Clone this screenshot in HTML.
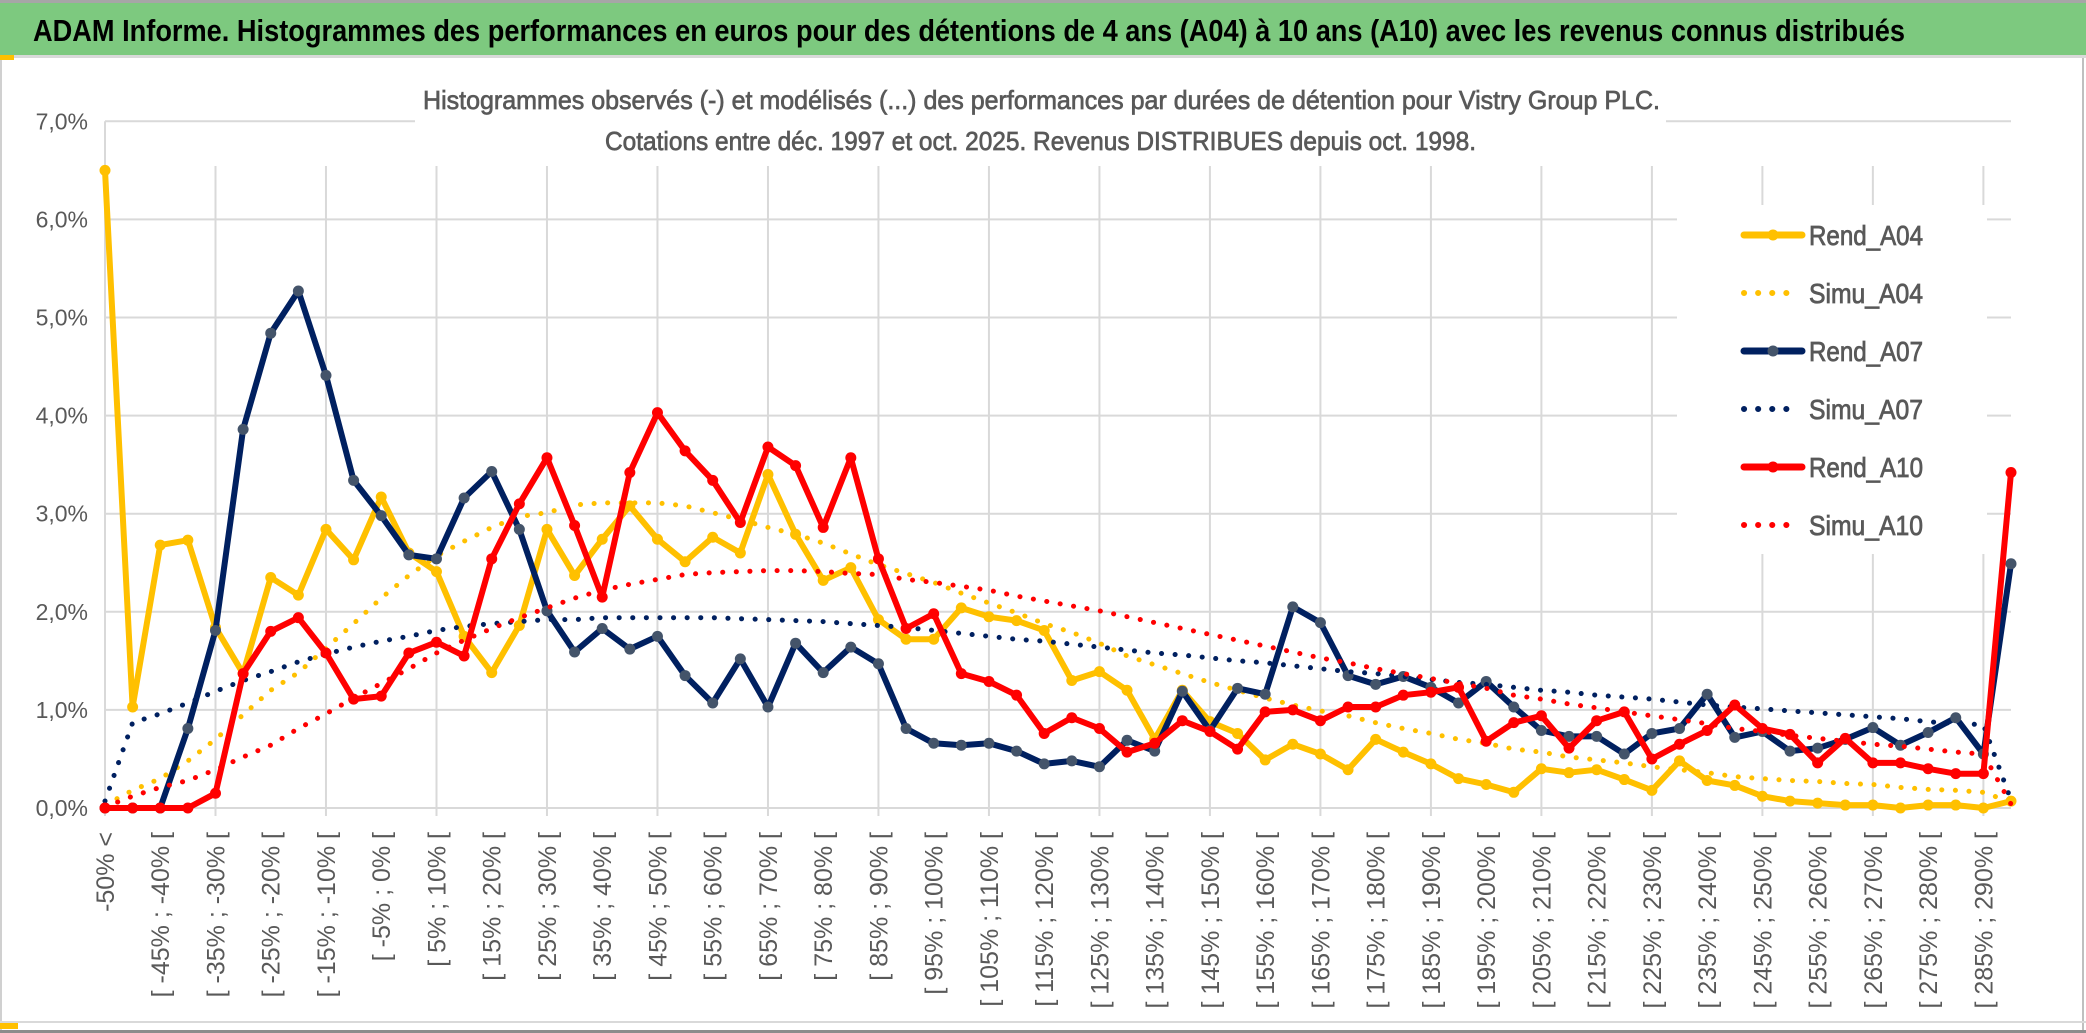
<!DOCTYPE html>
<html><head><meta charset="utf-8">
<style>
html,body{margin:0;padding:0;background:#fff;}
svg{display:block;}
text{font-family:"Liberation Sans",sans-serif;}
</style></head>
<body>
<svg id="chart" width="2086" height="1033" viewBox="0 0 2086 1033" xmlns="http://www.w3.org/2000/svg">
  <rect x="0" y="0" width="2086" height="1033" fill="#ffffff"/>
  <rect x="0" y="0" width="2086" height="3" fill="#a6a6a6"/>
  <rect x="0" y="3" width="2086" height="52" fill="#7dc97f"/>
  <rect x="0" y="55" width="2086" height="3" fill="#d9d9d9"/>
  <text x="33" y="41" font-size="31" font-weight="bold" fill="#000" textLength="1872" lengthAdjust="spacingAndGlyphs">ADAM Informe. Histogrammes des performances en euros pour des détentions de 4 ans (A04) à 10 ans (A10) avec les revenus connus distribués</text>
  <rect x="0" y="58" width="2" height="975" fill="#d0d0d0"/>
  <rect x="2082" y="58" width="2" height="975" fill="#bfbfbf"/>
  <rect x="0" y="1021" width="2086" height="2" fill="#d9d9d9"/>
  <rect x="0" y="1030" width="2086" height="3" fill="#8c8c8c"/>
  <rect x="0" y="55" width="14" height="5" fill="#ffc000"/>
  <rect x="0" y="1023" width="18" height="6" fill="#ffc000"/>
  <g id="grid"></g>
  <g id="yaxis"></g>
  <g id="xaxis"></g>
  <rect x="415" y="82" width="1251" height="84" fill="#fff"/>
  <text x="423" y="109" font-size="26" fill="#595959" stroke="#595959" stroke-width="0.7" textLength="1237" lengthAdjust="spacingAndGlyphs">Histogrammes observés (-) et modélisés (...) des performances par durées de détention pour Vistry Group PLC.</text>
  <text x="605" y="150" font-size="26" fill="#595959" stroke="#595959" stroke-width="0.7" textLength="871" lengthAdjust="spacingAndGlyphs">Cotations entre déc. 1997 et oct. 2025. Revenus DISTRIBUES depuis oct. 1998.</text>
  <rect x="1677" y="205" width="310" height="349" fill="#fff"/>
  <g id="series"></g>
  <g id="legend"></g>
</svg>
<script>
const categories = ["-50% <","[ -50% ; -45% [","[ -45% ; -40% [","[ -40% ; -35% [","[ -35% ; -30% [","[ -30% ; -25% [","[ -25% ; -20% [","[ -20% ; -15% [","[ -15% ; -10% [","[ -10% ; -5% [",
"[ -5% ; 0% [","[ 0% ; 5% [","[ 5% ; 10% [","[ 10% ; 15% [","[ 15% ; 20% [","[ 20% ; 25% [","[ 25% ; 30% [","[ 30% ; 35% [","[ 35% ; 40% [","[ 40% ; 45% [",
"[ 45% ; 50% [","[ 50% ; 55% [","[ 55% ; 60% [","[ 60% ; 65% [","[ 65% ; 70% [","[ 70% ; 75% [","[ 75% ; 80% [","[ 80% ; 85% [","[ 85% ; 90% [","[ 90% ; 95% [",
"[ 95% ; 100% [","[ 100% ; 105% [","[ 105% ; 110% [","[ 110% ; 115% [","[ 115% ; 120% [","[ 120% ; 125% [","[ 125% ; 130% [","[ 130% ; 135% [","[ 135% ; 140% [","[ 140% ; 145% [",
"[ 145% ; 150% [","[ 150% ; 155% [","[ 155% ; 160% [","[ 160% ; 165% [","[ 165% ; 170% [","[ 170% ; 175% [","[ 175% ; 180% [","[ 180% ; 185% [","[ 185% ; 190% [","[ 190% ; 195% [",
"[ 195% ; 200% [","[ 200% ; 205% [","[ 205% ; 210% [","[ 210% ; 215% [","[ 215% ; 220% [","[ 220% ; 225% [","[ 225% ; 230% [","[ 230% ; 235% [","[ 235% ; 240% [","[ 240% ; 245% [",
"[ 245% ; 250% [","[ 250% ; 255% [","[ 255% ; 260% [","[ 260% ; 265% [","[ 265% ; 270% [","[ 270% ; 275% [","[ 275% ; 280% [","[ 280% ; 285% [","[ 285% ; 290% [","[ 290% ; 295% ["];

const rendA04 = [6.50,1.03,2.68,2.73,1.84,1.37,2.35,2.17,2.84,2.53,3.17,2.60,2.41,1.75,1.38,1.86,2.84,2.37,2.74,3.08,
2.74,2.51,2.76,2.60,3.40,2.79,2.32,2.45,1.92,1.72,1.72,2.04,1.95,1.91,1.81,1.30,1.39,1.20,0.70,1.20,
0.88,0.76,0.49,0.65,0.55,0.39,0.70,0.57,0.45,0.30,0.24,0.16,0.40,0.36,0.39,0.29,0.18,0.48,0.28,0.23,
0.12,0.07,0.05,0.03,0.03,0.00,0.03,0.03,0.00,0.07];
const simuA04 = [0.03,0.18,0.30,0.48,0.70,0.95,1.20,1.38,1.63,1.88,2.14,2.37,2.57,2.72,2.86,2.97,3.01,3.09,3.11,3.11,
3.11,3.08,3.01,2.94,2.86,2.79,2.70,2.59,2.48,2.39,2.30,2.19,2.09,1.99,1.88,1.79,1.68,1.55,1.46,1.37,
1.28,1.20,1.12,1.05,0.99,0.94,0.87,0.81,0.76,0.70,0.66,0.60,0.57,0.52,0.49,0.46,0.42,0.39,0.36,0.32,
0.30,0.28,0.27,0.25,0.24,0.21,0.19,0.18,0.16,0.06];
const rendA07 = [0,0,0,0.81,1.81,3.86,4.84,5.27,4.41,3.34,2.98,2.58,2.54,3.16,3.43,2.84,2.01,1.59,1.83,1.62,
1.75,1.35,1.07,1.52,1.03,1.68,1.38,1.64,1.47,0.81,0.66,0.64,0.66,0.58,0.45,0.48,0.42,0.69,0.58,1.19,
0.79,1.22,1.16,2.05,1.89,1.35,1.26,1.34,1.23,1.07,1.29,1.03,0.79,0.73,0.73,0.55,0.76,0.81,1.16,0.72,
0.78,0.58,0.61,0.70,0.82,0.64,0.77,0.92,0.55,2.49];
const simuA07 = [0.07,0.87,0.96,1.07,1.19,1.30,1.39,1.49,1.57,1.64,1.70,1.75,1.81,1.85,1.88,1.90,1.92,1.92,1.94,1.94,
1.94,1.94,1.94,1.93,1.92,1.91,1.90,1.88,1.86,1.84,1.81,1.78,1.75,1.72,1.70,1.67,1.64,1.61,1.58,1.56,
1.53,1.50,1.48,1.45,1.42,1.39,1.37,1.34,1.31,1.28,1.26,1.23,1.20,1.18,1.15,1.13,1.11,1.08,1.05,1.03,
1.01,0.99,0.97,0.95,0.93,0.91,0.88,0.86,0.85,0.08];
const rendA10 = [0,0,0,0,0.15,1.37,1.80,1.94,1.58,1.11,1.14,1.58,1.69,1.55,2.54,3.10,3.57,2.88,2.15,3.42,
4.03,3.64,3.34,2.91,3.68,3.49,2.86,3.57,2.54,1.83,1.98,1.37,1.29,1.15,0.76,0.92,0.81,0.57,0.66,0.89,
0.78,0.60,0.98,1.00,0.89,1.03,1.03,1.15,1.18,1.23,0.68,0.87,0.94,0.61,0.89,0.98,0.50,0.65,0.79,1.05,
0.81,0.75,0.46,0.71,0.46,0.46,0.40,0.35,0.35,3.42];
const simuA10 = [0.01,0.12,0.21,0.28,0.39,0.52,0.64,0.81,0.96,1.12,1.27,1.42,1.58,1.71,1.83,1.94,2.04,2.14,2.22,2.28,
2.33,2.38,2.40,2.41,2.42,2.42,2.41,2.39,2.38,2.33,2.30,2.26,2.22,2.16,2.11,2.06,2.01,1.95,1.89,1.83,
1.77,1.71,1.65,1.59,1.53,1.48,1.42,1.37,1.32,1.27,1.22,1.15,1.11,1.06,1.02,0.98,0.94,0.90,0.86,0.81,
0.78,0.74,0.71,0.68,0.65,0.63,0.60,0.57,0.55,0.04];
const yTicks = [0,1,2,3,4,5,6,7];
const yTickLabels = ["0,0%","1,0%","2,0%","3,0%","4,0%","5,0%","6,0%","7,0%"];

const NS = "http://www.w3.org/2000/svg";
const X0 = 105, X1 = 2011, Y0 = 808, YTOP = 121.3, YMAX = 7;
function xScale(i){ return X0 + i * (X1 - X0) / (categories.length - 1); }
function yScale(v){ return Y0 - v * (Y0 - YTOP) / YMAX; }
function mk(tag, attrs, parent){
  const el = document.createElementNS(NS, tag);
  for (const k in attrs) el.setAttribute(k, attrs[k]);
  parent.appendChild(el);
  return el;
}
const grid = document.getElementById('grid');
const yaxis = document.getElementById('yaxis');
const xaxis = document.getElementById('xaxis');
const seriesG = document.getElementById('series');
const legend = document.getElementById('legend');

yTicks.forEach((t, k) => {
  const y = yScale(t);
  const ln = mk('line', {x1: X0, x2: X1, y1: y, y2: y, stroke: '#d9d9d9', 'stroke-width': 2}, grid);
  
  
  const tx = mk('text', {x: 88, y: y + 8, 'font-size': 23, fill: '#595959', 'text-anchor': 'end'}, yaxis);
  tx.textContent = yTickLabels[k];
  
  
});
for (let i = 0; i < categories.length; i += 4) {
  const x = xScale(i);
  const ln = mk('line', {x1: x, x2: x, y1: i === 0 ? yScale(7) : 166, y2: Y0 + 8, stroke: '#d9d9d9', 'stroke-width': 2}, grid);
  
  
}
categories.forEach((c, i) => {
  if (i % 2 !== 0) return;
  const x = xScale(i);
  const tx = mk('text', {x: 0, y: 0, 'font-size': 25, fill: '#595959', 'text-anchor': 'end', 'dominant-baseline': 'central',
    transform: 'translate(' + (x + 1) + ',832) rotate(-90)'}, xaxis);
  tx.textContent = c;
  
  
});

function drawSeries(vals, color, dotted, markerColor, name){
  const g = mk('g', {}, seriesG);
  
  
  const pts = vals.map((v, i) => xScale(i).toFixed(1) + ',' + yScale(v).toFixed(1)).join(' ');
  if (dotted) {
    const pl = mk('polyline', {points: pts, fill: 'none', stroke: color, 'stroke-width': 5, 'stroke-linecap': 'round', 'stroke-dasharray': '0.1 13.5'}, g);
    
    
  } else {
    const pl = mk('polyline', {points: pts, fill: 'none', stroke: color, 'stroke-width': 6, 'stroke-linejoin': 'round', 'stroke-linecap': 'round'}, g);
    
    
    vals.forEach((v, i) => {
      const c = mk('circle', {cx: xScale(i), cy: yScale(v), r: 5.5, fill: markerColor}, g);
      
      
    });
  }
}
drawSeries(rendA04, '#ffc000', false, '#ffc000', 'rend-a04');
drawSeries(simuA04, '#ffc000', true, null, 'simu-a04');
drawSeries(rendA07, '#002060', false, '#44546a', 'rend-a07');
drawSeries(simuA07, '#002060', true, null, 'simu-a07');
drawSeries(rendA10, '#ff0000', false, '#ff0000', 'rend-a10');
drawSeries(simuA10, '#ff0000', true, null, 'simu-a10');

const legendItems = [
  ['Rend_A04', '#ffc000', false, '#ffc000'],
  ['Simu_A04', '#ffc000', true, null],
  ['Rend_A07', '#002060', false, '#44546a'],
  ['Simu_A07', '#002060', true, null],
  ['Rend_A10', '#ff0000', false, '#ff0000'],
  ['Simu_A10', '#ff0000', true, null]
];
legendItems.forEach((it, k) => {
  const y = 235 + k * 58;
  const g = mk('g', {}, legend);
  
  
  if (it[2]) {
    mk('line', {x1: 1744, x2: 1800, y1: y, y2: y, stroke: it[1], 'stroke-width': 6, 'stroke-linecap': 'round', 'stroke-dasharray': '0.1 14'}, g);
  } else {
    mk('line', {x1: 1744, x2: 1802, y1: y, y2: y, stroke: it[1], 'stroke-width': 7, 'stroke-linecap': 'round'}, g);
    mk('circle', {cx: 1773, cy: y, r: 5.5, fill: it[3]}, g);
  }
  const tx = mk('text', {x: 1809, y: y + 10, 'font-size': 28, fill: '#595959', stroke: '#595959', 'stroke-width': 0.8, textLength: 114, lengthAdjust: 'spacingAndGlyphs'}, g);
  tx.textContent = it[0];
  
  
});
</script>
</body></html>
